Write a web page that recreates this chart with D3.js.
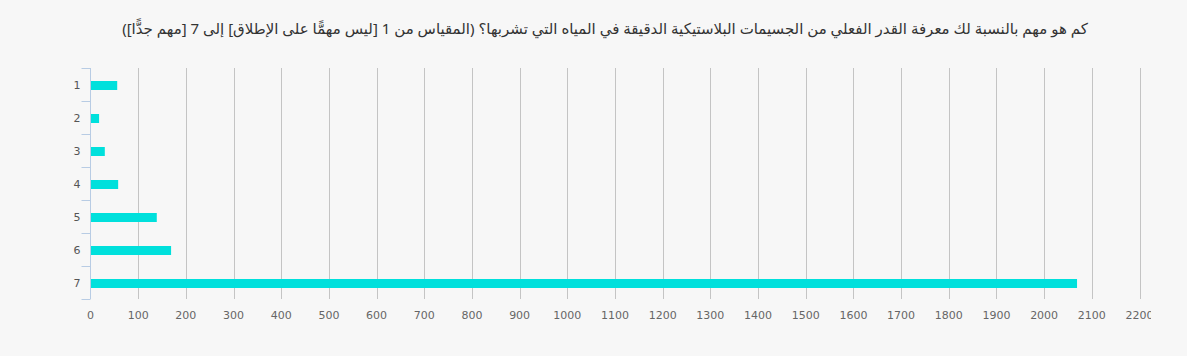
<!DOCTYPE html>
<html><head><meta charset="utf-8">
<script src="https://cdn.jsdelivr.net/npm/d3@7/dist/d3.min.js"></script>
<style>
html,body{margin:0;padding:0;background:#f7f7f7;}
svg{display:block;}
</style></head>
<body>
<script>
const title = "كم هو مهم بالنسبة لك معرفة القدر الفعلي من الجسيمات البلاستيكية الدقيقة في المياه التي تشربها؟ (المقياس من 1 [ليس مهمًّا على الإطلاق] إلى 7 [مهم جدًّا])";
const categories = ["1","2","3","4","5","6","7"];
const values = [56, 18, 30, 58, 139, 169, 2069];
const xTicks = [0,100,200,300,400,500,600,700,800,900,1000,1100,1200,1300,1400,1500,1600,1700,1800,1900,2000,2100,2200];

const W = 1187, H = 356;
const svg = d3.select("body").append("svg").attr("width", W).attr("height", H);
svg.append("rect").attr("width", W).attr("height", H).attr("fill", "#f7f7f7");

const x = d3.scaleLinear().domain([0, 2200]).range([90.5, 1139.5]);
const y = d3.scaleBand().domain(categories).range([68, 299]).paddingInner(0).paddingOuter(0);

svg.append("text")
  .attr("x", 605).attr("y", 34)
  .attr("text-anchor", "middle")
  .attr("direction", "rtl")
  .style("unicode-bidi", "embed")
  .attr("font-family", "'Noto Sans', 'DejaVu Sans', sans-serif")
  .attr("font-size", 15)
  .attr("fill", "#333")
  .text(title);

svg.append("defs").append("clipPath").attr("id", "clip")
  .append("rect").attr("x", 0).attr("y", 0).attr("width", 1151).attr("height", H);

// grid
svg.append("g").selectAll("line").data(xTicks.filter(d => d > 0)).join("line")
  .attr("x1", d => Math.round(x(d)) + 0.5).attr("x2", d => Math.round(x(d)) + 0.5)
  .attr("y1", 68).attr("y2", 299)
  .attr("stroke", "#c4c4c4").attr("stroke-width", 1);

// bars
const bh = 9;
svg.append("g").selectAll("rect").data(values).join("rect")
  .attr("x", x(0))
  .attr("y", (d, i) => y(categories[i]) + y.bandwidth() / 2 - bh / 2 + 1)
  .attr("width", d => x(d) - x(0))
  .attr("height", bh)
  .attr("fill", "#00e0dc");

// y axis
const yAxis = svg.append("g").attr("transform", "translate(90.5,0)");
yAxis.append("line").attr("x1", 0).attr("x2", 0).attr("y1", 68).attr("y2", 299)
  .attr("stroke", "#b8cce4").attr("stroke-width", 1);
const bounds = categories.map(c => y(c)).concat([y.range()[1]]);
yAxis.selectAll("line.tk").data(bounds).join("line").attr("class", "tk")
  .attr("x1", -9).attr("x2", 0).attr("y1", d => Math.round(d) + 0.5).attr("y2", d => Math.round(d) + 0.5)
  .attr("stroke", "#b8cce4");
yAxis.selectAll("text").data(categories).join("text")
  .attr("x", -10).attr("y", d => y(d) + y.bandwidth() / 2 + 4)
  .attr("text-anchor", "end")
  .attr("font-family", "'DejaVu Sans', sans-serif").attr("font-size", 11)
  .attr("fill", "#555").text(d => d);

// x tick labels
svg.append("g").attr("clip-path", "url(#clip)").selectAll("text").data(xTicks).join("text")
  .attr("x", d => x(d)).attr("y", 319)
  .attr("text-anchor", "middle")
  .attr("font-family", "'DejaVu Sans', sans-serif").attr("font-size", 11)
  .attr("fill", "#666").text(d => d);
</script>
</body></html>
